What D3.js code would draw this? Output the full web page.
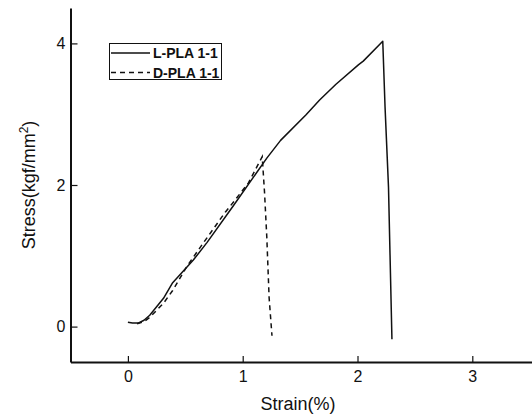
<!DOCTYPE html>
<html>
<head>
<meta charset="utf-8">
<script src="https://cdn.jsdelivr.net/npm/d3@7"></script>
<style>
  body { margin: 0; background: #fff; }
  text { font-family: "Liberation Sans", Arial, sans-serif; fill: #111; }
</style>
</head>
<body>
<div id="chart"></div>
<script>
// strain (%) / stress (kgf/mm2)
var lStrain = [0, 0.04, 0.09, 0.14, 0.19, 0.31, 0.39, 0.57, 0.69, 0.92, 1.21, 1.33, 1.55, 1.67, 1.81, 2.01, 2.05, 2.22, 2.24, 2.27, 2.30];
var lStress = [0.06, 0.05, 0.05, 0.09, 0.16, 0.40, 0.62, 0.94, 1.19, 1.71, 2.38, 2.63, 2.99, 3.20, 3.42, 3.70, 3.75, 4.03, 3.10, 1.97, -0.18];
var dStrain = [0.08, 0.14, 0.19, 0.31, 0.39, 0.51, 0.63, 0.85, 0.92, 1.05, 1.17, 1.19, 1.21, 1.23, 1.255];
var dStress = [0.04, 0.07, 0.13, 0.33, 0.51, 0.84, 1.12, 1.62, 1.76, 2.03, 2.40, 1.90, 1.26, 0.41, -0.13];
var seriesNames = ["L-PLA 1-1", "D-PLA 1-1"];
var xTicks = [0, 1, 2, 3];
var yTicks = [0, 2, 4];

var width = 532, height = 417;
var svg = d3.select("#chart")
  .append("svg")
    .attr("width", width)
    .attr("height", height);

var x = d3.scaleLinear().domain([-0.5, 3.52]).range([70.5, 532]);
var y = d3.scaleLinear().domain([-0.5, 4.5]).range([362, 8]);

// X axis, ticks pointing inward
var gx = svg.append("g")
  .attr("transform", "translate(0,362)")
  .call(d3.axisBottom(x).tickValues(xTicks).tickFormat(d3.format("d"))
    .tickSize(-6).tickSizeOuter(0).tickPadding(9));
// Y axis
var gy = svg.append("g")
  .attr("transform", "translate(70.5,0)")
  .call(d3.axisLeft(y).tickValues(yTicks).tickFormat(d3.format("d"))
    .tickSize(-7).tickSizeOuter(0).tickPadding(5));

[gx, gy].forEach(function(g) {
  g.select(".domain").attr("stroke", "#111").attr("stroke-width", 2);
  g.selectAll(".tick line").attr("stroke", "#111").attr("stroke-width", 1.2);
  g.selectAll(".tick text")
    .style("font-family", "'Liberation Sans', Arial, sans-serif")
    .style("font-size", "16px")
    .attr("fill", "#111");
});

var line = d3.line()
  .x(function(d) { return x(d[0]); })
  .y(function(d) { return y(d[1]); });

var lData = lStrain.map(function(s, i) { return [s, lStress[i]]; });
var dData = dStrain.map(function(s, i) { return [s, dStress[i]]; });

svg.append("path")
  .datum(lData)
  .attr("fill", "none")
  .attr("stroke", "#111")
  .attr("stroke-width", 1.5)
  .attr("stroke-linejoin", "round")
  .attr("d", line);

svg.append("path")
  .datum(dData)
  .attr("fill", "none")
  .attr("stroke", "#111")
  .attr("stroke-width", 1.5)
  .attr("stroke-dasharray", "5,4")
  .attr("d", line);

// axis titles
svg.append("text")
  .attr("x", 298)
  .attr("y", 410)
  .attr("text-anchor", "middle")
  .style("font-size", "18px")
  .text("Strain(%)");

var yt = svg.append("text")
  .attr("transform", "translate(35,185)rotate(-90)")
  .attr("text-anchor", "middle")
  .style("font-size", "18px");
yt.append("tspan").text("Stress(kgf/mm");
yt.append("tspan").attr("dy", -7).style("font-size", "12px").text("2");
yt.append("tspan").attr("dy", 7).text(")");

// legend
var legend = svg.append("g");
legend.append("rect")
  .attr("x", 109.5).attr("y", 43.5)
  .attr("width", 112).attr("height", 36)
  .attr("fill", "#fff")
  .attr("stroke", "#111")
  .attr("stroke-width", 1);
seriesNames.forEach(function(name, i) {
  var ly = 53 + i * 19.5;
  legend.append("line")
    .attr("x1", 111).attr("x2", 150)
    .attr("y1", ly).attr("y2", ly)
    .attr("stroke", "#111")
    .attr("stroke-width", 1.5)
    .attr("stroke-dasharray", i == 1 ? "5,4" : null);
  legend.append("text")
    .attr("x", 153)
    .attr("y", ly + 5)
    .style("font-size", "14px")
    .style("font-weight", "bold")
    .text(name);
});
</script>
</body>
</html>
